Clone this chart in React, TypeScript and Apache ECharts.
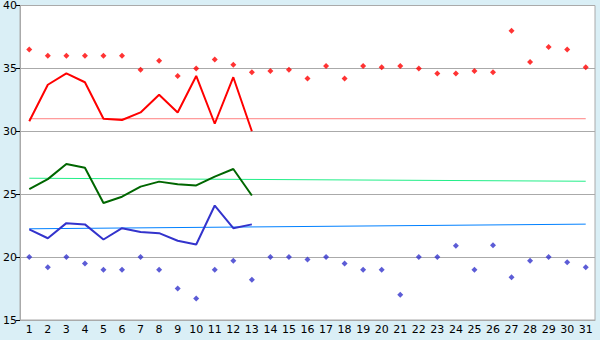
import React, { useEffect, useRef } from "react";
import * as echarts from "echarts";

const days = Array.from({ length: 31 }, (_, i) => String(i + 1));

const redDots = [36.5, 36.0, 36.0, 36.0, 36.0, 36.0, 34.9, 35.6, 34.4, 35.0, 35.7, 35.3, 34.7, 34.8, 34.9, 34.2, 35.2, 34.2, 35.2, 35.1, 35.2, 35.0, 34.6, 34.6, 34.8, 34.7, 38.0, 35.5, 36.7, 36.5, 35.1];
const redLine = [30.8, 33.7, 34.6, 33.9, 31.0, 30.9, 31.5, 32.9, 31.5, 34.4, 30.6, 34.3, 30.0];
const greenLine = [25.4, 26.2, 27.4, 27.1, 24.3, 24.8, 25.6, 26.0, 25.8, 25.7, 26.4, 27.0, 24.9];
const blueLine = [22.2, 21.5, 22.7, 22.6, 21.4, 22.3, 22.0, 21.9, 21.3, 21.0, 24.1, 22.3, 22.6];
const blueDots = [20.0, 19.2, 20.0, 19.5, 19.0, 19.0, 20.0, 19.0, 17.5, 16.7, 19.0, 19.7, 18.2, 20.0, 20.0, 19.8, 20.0, 19.5, 19.0, 19.0, 17.0, 20.0, 20.0, 20.9, 19.0, 20.95, 18.4, 19.7, 20.0, 19.6, 19.2];
// reference (trend) lines: start and end values
const redRef = [31.0, 31.0];
const greenRef = [26.27, 26.03];
const blueRef = [22.25, 22.62];

const refData = (pair: number[]) => [
  [days[0], pair[0]],
  [days[days.length - 1], pair[1]],
];

export default function App() {
  const ref = useRef<HTMLDivElement>(null);
  useEffect(() => {
    document.body.style.margin = "0";
    const chart = echarts.init(ref.current!, null, { renderer: "svg" });
    const font = "DejaVu Sans, Verdana, sans-serif";
    chart.setOption({
      animation: false,
      backgroundColor: "#daeff6",
      grid: {
        left: 20,
        right: 5,
        top: 5,
        bottom: 20,
        show: true,
        backgroundColor: "#ffffff",
        borderColor: "#aaaaaa",
        borderWidth: 1,
      },
      xAxis: {
        type: "category",
        data: days,
        boundaryGap: true,
        axisLine: { lineStyle: { color: "#aaaaaa", width: 1 } },
        axisTick: { alignWithLabel: true, length: 5, interval: 0, lineStyle: { color: "#000000" } },
        axisLabel: { interval: 0, fontSize: 11, color: "#000000", fontFamily: font, margin: 4 },
        splitLine: { show: false },
      },
      yAxis: {
        type: "value",
        min: 15,
        max: 40,
        interval: 5,
        axisLine: { show: true, lineStyle: { color: "#aaaaaa", width: 1 } },
        axisTick: { show: true, length: 4, lineStyle: { color: "#000000" } },
        axisLabel: { fontSize: 11, color: "#000000", fontFamily: font, margin: 3 },
        splitLine: { lineStyle: { color: "#aaaaaa", width: 1 } },
      },
      series: [
        {
          type: "line",
          data: refData(redRef),
          symbol: "none",
          lineStyle: { color: "#ff8080", width: 1 },
          z: 1,
        },
        {
          type: "line",
          data: refData(greenRef),
          symbol: "none",
          lineStyle: { color: "#22ee88", width: 1 },
          z: 1,
        },
        {
          type: "line",
          data: refData(blueRef),
          symbol: "none",
          lineStyle: { color: "#0080ff", width: 1 },
          z: 1,
        },
        {
          type: "line",
          data: redLine,
          symbol: "none",
          lineStyle: { color: "#ff0000", width: 2 },
          z: 2,
        },
        {
          type: "line",
          data: greenLine,
          symbol: "none",
          lineStyle: { color: "#006600", width: 2 },
          z: 2,
        },
        {
          type: "line",
          data: blueLine,
          symbol: "none",
          lineStyle: { color: "#3333cc", width: 2 },
          z: 2,
        },
        {
          type: "scatter",
          data: redDots,
          symbol: "diamond",
          symbolSize: 6,
          itemStyle: { color: "#ff0000" },
          z: 3,
        },
        {
          type: "scatter",
          data: blueDots,
          symbol: "diamond",
          symbolSize: 6,
          itemStyle: { color: "#3333cc" },
          z: 3,
        },
      ],
    });
    return () => chart.dispose();
  }, []);
  return <div ref={ref} style={{ width: 600, height: 340 }} />;
}
